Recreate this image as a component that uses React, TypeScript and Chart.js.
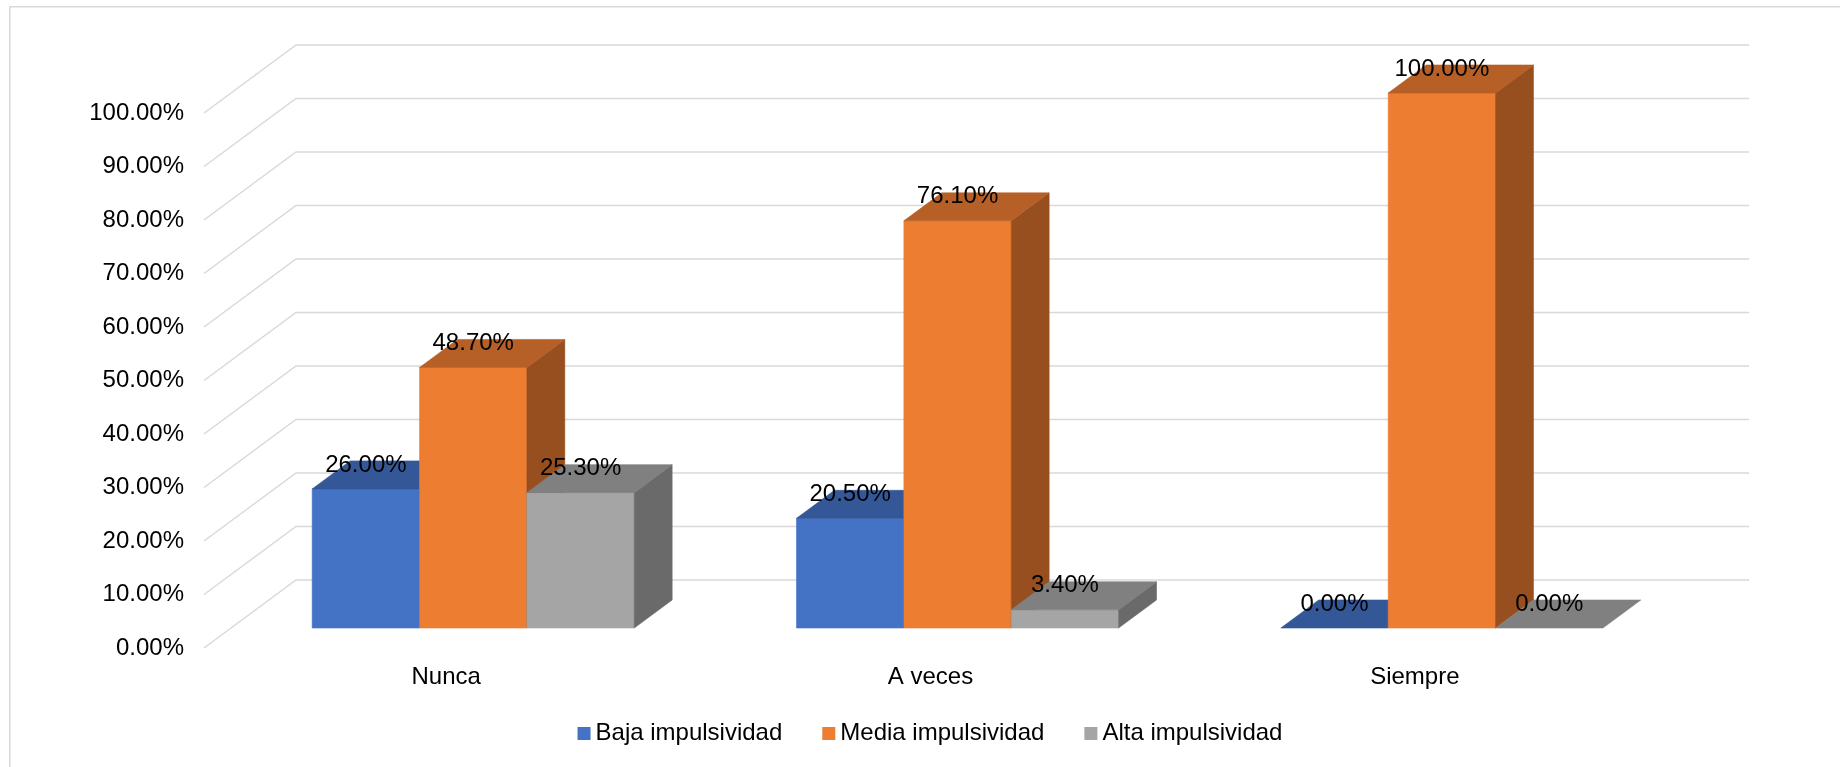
import React, { useEffect, useRef } from 'react';
import { Chart, registerables } from 'chart.js';

Chart.register(...registerables);

// ---- data ----
const categories = ['Nunca', 'A veces', 'Siempre'];
const seriesNames = ['Baja impulsividad', 'Media impulsividad', 'Alta impulsividad'];
const bajaValues = [26.0, 20.5, 0.0];
const mediaValues = [48.7, 76.1, 100.0];
const altaValues = [25.3, 3.4, 0.0];
const yMin = 0;
const yMax = 100;
const yStep = 10;

// ---- styles ----
const FRONT = ['#4472C4', '#ED7D31', '#A5A5A5'];
const TOP = ['#345897', '#B65F26', '#808080'];
const SIDE = ['#2C4A80', '#984F1F', '#6A6A6A'];
const GRID = '#D9D9D9';
const FONT_FAMILY = '"Liberation Sans", Arial, Helvetica, sans-serif';
const FONT = `24px ${FONT_FAMILY}`;
const DX = 92; // full depth of the 3D box (x)
const DY = 68; // full depth of the 3D box (y)
const ZF = 20 / 68; // bar front plane depth fraction
const ZB = 48 / 68; // bar back plane depth fraction
const LEGEND_CX = 930;
const LEGEND_CY = 733.5;

const threeDPlugin = {
  id: 'threeD',
  beforeDraw(chart: any) {
    const { ctx, width, height } = chart;
    ctx.save();
    ctx.fillStyle = '#FFFFFF';
    ctx.fillRect(0, 0, width, height);
    ctx.strokeStyle = GRID;
    ctx.lineWidth = 1.5;
    ctx.strokeRect(9.75, 6.75, width + 100, height + 100);
    ctx.restore();
  },
  beforeDatasetsDraw(chart: any) {
    const { ctx, chartArea, scales } = chart;
    const ys = scales.y;
    ctx.save();
    ctx.strokeStyle = GRID;
    ctx.lineWidth = 1.5;
    ys.ticks.forEach((t: any) => {
      const py = ys.getPixelForValue(t.value);
      ctx.beginPath();
      ctx.moveTo(chartArea.left, py);
      ctx.lineTo(chartArea.left + DX, py - DY);
      ctx.lineTo(chartArea.right + DX, py - DY);
      ctx.stroke();
    });
    ctx.restore();
  },
  beforeDatasetDraw() {
    return false;
  },
  afterDatasetsDraw(chart: any) {
    const { ctx } = chart;
    const fx = ZF * DX;
    const fy = ZF * DY;
    const bx = (ZB - ZF) * DX;
    const by = (ZB - ZF) * DY;
    const labels: { text: string; x: number; y: number }[] = [];
    ctx.save();
    const poly = (pts: number[][], color: string) => {
      ctx.beginPath();
      ctx.moveTo(pts[0][0], pts[0][1]);
      for (let k = 1; k < pts.length; k++) ctx.lineTo(pts[k][0], pts[k][1]);
      ctx.closePath();
      ctx.fillStyle = color;
      ctx.fill();
      ctx.strokeStyle = color;
      ctx.lineWidth = 0.6;
      ctx.stroke();
    };
    for (let i = 0; i < categories.length; i++) {
      for (let d = 0; d < chart.data.datasets.length; d++) {
        const meta = chart.getDatasetMeta(d);
        const el = meta.data[i];
        if (!el) continue;
        const p = el.getProps(['x', 'y', 'base', 'width'], true);
        const L = p.x - p.width / 2 + fx;
        const R = p.x + p.width / 2 + fx;
        const T = Math.min(p.y, p.base) - fy;
        const B = Math.max(p.y, p.base) - fy;
        if (B - T > 0.5) {
          poly([[L, T], [R, T], [R, B], [L, B]], FRONT[d]);
          poly([[R, T], [R + bx, T - by], [R + bx, B - by], [R, B]], SIDE[d]);
        }
        poly([[L, T], [L + bx, T - by], [R + bx, T - by], [R, T]], TOP[d]);
        const v = chart.data.datasets[d].data[i];
        labels.push({ text: v.toFixed(2) + '%', x: (L + R) / 2, y: T - 24 });
      }
    }
    ctx.font = FONT;
    ctx.fillStyle = '#000000';
    ctx.textAlign = 'center';
    ctx.textBaseline = 'middle';
    labels.forEach((l) => ctx.fillText(l.text, l.x, l.y));
    ctx.restore();
  },
  afterDraw(chart: any) {
    const { ctx } = chart;
    ctx.save();
    ctx.font = FONT;
    const box = 13;
    const gapText = 5;
    const gapItem = 40;
    const widths = seriesNames.map((n) => ctx.measureText(n).width);
    const total =
      widths.reduce((a, w) => a + box + gapText + w, 0) + gapItem * (seriesNames.length - 1);
    let x = LEGEND_CX - total / 2;
    ctx.textAlign = 'left';
    ctx.textBaseline = 'middle';
    seriesNames.forEach((n, k) => {
      ctx.fillStyle = FRONT[k];
      ctx.fillRect(x, LEGEND_CY - box / 2, box, box);
      x += box + gapText;
      ctx.fillStyle = '#000000';
      ctx.fillText(n, x, LEGEND_CY);
      x += widths[k] + gapItem;
    });
    ctx.restore();
  },
};

export default function App() {
  const canvasRef = useRef<HTMLCanvasElement | null>(null);

  useEffect(() => {
    if (!canvasRef.current) return;
    const chart = new Chart(canvasRef.current, {
      type: 'bar',
      data: {
        labels: categories,
        datasets: [
          { label: seriesNames[0], data: bajaValues, backgroundColor: FRONT[0] },
          { label: seriesNames[1], data: mediaValues, backgroundColor: FRONT[1] },
          { label: seriesNames[2], data: altaValues, backgroundColor: FRONT[2] },
        ],
      },
      options: {
        responsive: false,
        animation: false,
        devicePixelRatio: 1,
        layout: { padding: { left: 0, right: 183, top: 113, bottom: 59 } },
        datasets: {
          bar: { categoryPercentage: 0.665, barPercentage: 1.0 },
        },
        plugins: {
          legend: { display: false },
          tooltip: { enabled: false },
          title: { display: false },
        },
        scales: {
          x: {
            grid: { display: false, drawTicks: false },
            border: { display: false },
            ticks: {
              color: '#000000',
              font: { family: FONT_FAMILY, size: 24 },
              padding: 15,
              maxRotation: 0,
            },
            afterFit: (s: any) => {
              s.height = 60;
            },
          },
          y: {
            min: yMin,
            max: yMax,
            grid: { display: false, drawTicks: false },
            border: { display: false },
            ticks: {
              stepSize: yStep,
              color: '#000000',
              font: { family: FONT_FAMILY, size: 24 },
              padding: 20,
              callback: (v: any) => Number(v).toFixed(2) + '%',
            },
            afterFit: (s: any) => {
              s.width = 204;
            },
          },
        },
      },
      plugins: [threeDPlugin],
    } as any);
    return () => chart.destroy();
  }, []);

  return (
    <div style={{ position: 'absolute', left: 0, top: 0, width: 1840, height: 767, overflow: 'hidden' }}>
      <canvas ref={canvasRef} width={1840} height={767} style={{ display: 'block' }} />
    </div>
  );
}
